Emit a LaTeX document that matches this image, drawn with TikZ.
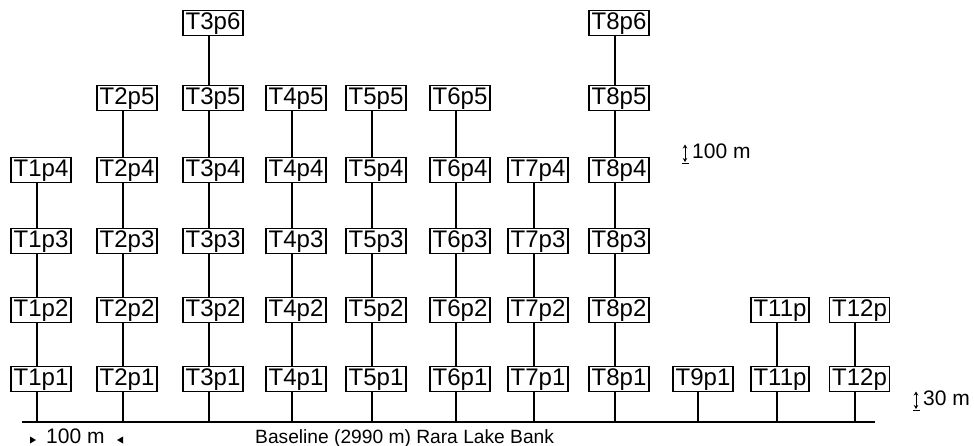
\documentclass[tikz,border=0pt]{standalone}
\usepackage{fontspec}
\setmainfont{Liberation Sans}
\usetikzlibrary{arrows.meta}
\begin{document}
\begin{tikzpicture}[x=1pt,y=-1pt,
  station/.style={draw, line width=1.4pt, font=\fontsize{24}{26}\selectfont,
    inner xsep=2.5pt, inner ysep=1.2pt, text height=17.2pt, text depth=5pt},
  link/.style={line width=1.8pt},
  lbl/.style={font=\fontsize{21}{23}\selectfont, inner sep=0pt, anchor=base west},
  vbar/.style={line width=0.9pt, {Stealth[length=4pt,width=4.5pt]}-{Stealth[length=4pt,width=4.5pt]}},
  tick/.style={fill=black}]
\useasboundingbox (0,0) rectangle (974,446);

% transects T1--T8: column x, number of plots
\foreach \col/\x/\n in {1/37/4, 2/123/5, 3/209/6, 4/292/5,
                       5/372/5, 6/456/5, 7/534/4, 8/615/6} {
  \coordinate (foot\col) at (\x,422);
  \foreach \p in {1,...,\n} {
    \pgfmathsetmacro\yy{{379,310,241,170,98,23}[\p-1]}
    \node[station] (T\col p\p) at (\x+4,\yy) {T\col p\p};
  }
  \draw[link] (foot\col) -- (foot\col |- T\col p1.south);
  \foreach \p in {2,...,\n} {
    \pgfmathtruncatemacro\q{\p-1}
    \draw[link] (foot\col |- T\col p\q.north) -- (foot\col |- T\col p\p.south);
  }
}

% transect T9
\coordinate (foot9) at (698,422);
\node[station] (T9p1) at (703,379) {T9p1};
\draw[link] (foot9) -- (foot9 |- T9p1.south);

% transect T11
\coordinate (foot11) at (777,422);
\node[station] (T11a) at (780,379) {T11p};
\node[station] (T11b) at (780,310) {T11p};
\draw[link] (foot11) -- (foot11 |- T11a.south);
\draw[link] (foot11 |- T11a.north) -- (foot11 |- T11b.south);

% transect T12
\coordinate (foot12) at (855,422);
\node[station] (T12a) at (859.5,379) {T12p};
\node[station] (T12b) at (859.5,310) {T12p};
\draw[link] (foot12) -- (foot12 |- T12a.south);
\draw[link] (foot12 |- T12a.north) -- (foot12 |- T12b.south);

% lake-bank baseline
\coordinate (bl) at (22,422);
\coordinate (br) at (875,422);
\draw[line width=2.2pt] (bl) -- (br);

% horizontal spacing: 100 m between transects
\node[lbl] (hscale) at (46,443) {100 m};
\fill[tick] (30,436.5) -- (36,440) -- (30,443.5) -- cycle;
\fill[tick] (123,436.5) -- (117,440) -- (123,443.5) -- cycle;

\node[lbl, font=\fontsize{19.2}{22}\selectfont] (base) at (255,443) {Baseline (2990 m) Rara Lake Bank};

% vertical spacing between plots: 100 m
\node[lbl] (vscale) at (692,158.5) {100 m};
\draw[vbar] (685,144.5) -- (685,162);
\draw[line width=0.9pt] (681.5,163.8) -- (688.5,163.8);

% vertical spacing baseline to first plot: 30 m
\node[lbl] (vscale30) at (923,405.5) {30 m};
\draw[vbar] (916,391.5) -- (916,409);
\draw[line width=0.9pt] (912.5,410.8) -- (919.5,410.8);
\end{tikzpicture}
\end{document}
